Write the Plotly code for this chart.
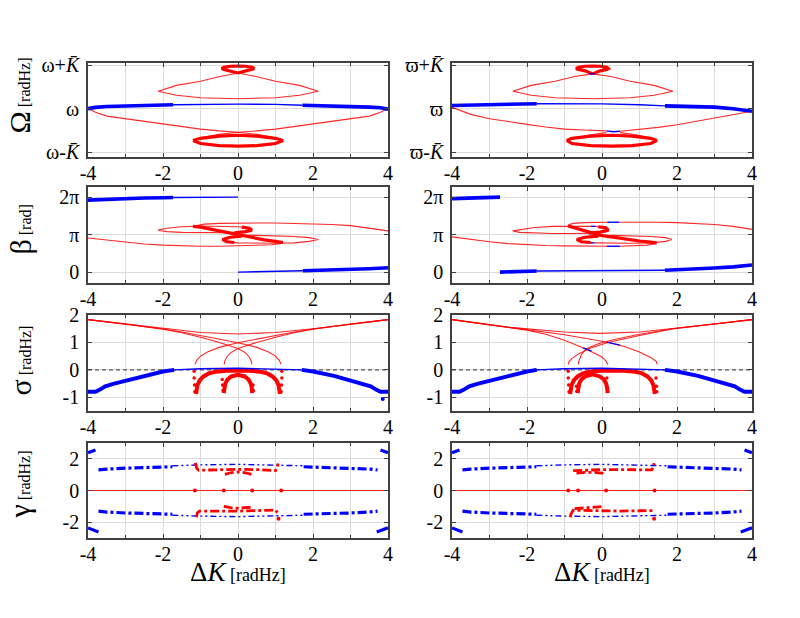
import plotly.graph_objects as go

# ---------------- DATA ----------------
X_TICKS = [-4, -2, 0, 2, 4]
X_TICKTEXT = ["-4", "-2", "0", "2", "4"]
OM_TICKVALS = [-1, 0, 1]
OM_L_TICKTEXT = ["ω-<i>K̄</i>", "ω", "ω+<i>K̄</i>"]
OM_R_TICKTEXT = ["ϖ-<i>K̄</i>", "ϖ", "ϖ+<i>K̄</i>"]
BE_TICKVALS = [0, 1, 2]          # units of pi
BE_TICKTEXT = ["0", "π", "2π"]
SI_TICKVALS = [-1, 0, 1, 2]
SI_TICKTEXT = ["-1", "0", "1", "2"]
GA_TICKVALS = [-2, 0, 2]
GA_TICKTEXT = ["-2", "0", "2"]

# ---- Row 1 left ----
OM_L_BLUE_A_X = [-4.0, -3.8, -3.5, -3.0, -2.5, -2.0, -1.73]
OM_L_BLUE_A_Y = [0.0, 0.03, 0.05, 0.065, 0.075, 0.085, 0.09]
OM_L_BLUE_B_X = [-1.73, -1.0, 0.0, 1.0, 1.72]
OM_L_BLUE_B_Y = [0.09, 0.1, 0.105, 0.1, 0.08]
OM_L_BLUE_C_X = [1.72, 2.0, 2.5, 3.0, 3.5, 3.8, 4.0]
OM_L_BLUE_C_Y = [0.08, 0.075, 0.065, 0.05, 0.035, 0.02, -0.01]
OM_L_ARM1_X = [-4.0, -3.8, -3.5, -3.0, -2.5, -2.0, -1.5, -1.0, -0.5, 0.0, 0.5, 0.9, 1.15]
OM_L_ARM1_Y = [0.0, -0.08, -0.17, -0.23, -0.30, -0.36, -0.42, -0.47, -0.51, -0.54, -0.59, -0.65, -0.71]
OM_L_ARM2_X = [4.0, 3.8, 3.5, 3.0, 2.5, 2.0, 1.5, 1.0, 0.5, 0.0, -0.5, -0.9, -1.15]
OM_L_ARM2_Y = [0.0, -0.08, -0.17, -0.23, -0.30, -0.36, -0.42, -0.47, -0.51, -0.54, -0.59, -0.65, -0.71]
OM_L_LOOP_X = [-1.2, -1.0, -0.5, 0.0, 0.5, 1.0, 1.2, 1.0, 0.5, 0.0, -0.5, -1.0, -1.2]
OM_L_LOOP_Y = [-0.73, -0.68, -0.63, -0.61, -0.63, -0.68, -0.73, -0.80, -0.85, -0.86, -0.85, -0.80, -0.73]
OM_L_BIG_X = [0.0, -0.48, -1.0, -1.64, -2.13, -1.64, -1.0, 0.0, 1.0, 1.64, 2.14, 1.64, 1.0, 0.48, 0.0]
OM_L_BIG_Y = [0.82, 0.74, 0.63, 0.535, 0.40, 0.31, 0.25, 0.23, 0.25, 0.31, 0.40, 0.535, 0.63, 0.74, 0.82]
OM_L_SMALL_X = [0.0, 0.2, 0.38, 0.43, 0.38, 0.2, 0.0, -0.2, -0.38, -0.43, -0.38, -0.2, 0.0]
OM_L_SMALL_Y = [0.82, 0.87, 0.90, 0.92, 0.95, 0.975, 0.98, 0.975, 0.95, 0.92, 0.90, 0.87, 0.82]

# ---- Row 1 right ----
OM_R_BLUE_A_X = [-4.0, -3.5, -3.0, -2.5, -2.0, -1.74]
OM_R_BLUE_A_Y = [0.075, 0.085, 0.095, 0.105, 0.11, 0.115]
OM_R_BLUE_B_X = [-1.74, -1.0, 0.0, 1.0, 1.68]
OM_R_BLUE_B_Y = [0.115, 0.115, 0.11, 0.09, 0.065]
OM_R_BLUE_C_X = [1.68, 2.0, 2.5, 3.0, 3.5, 3.8, 4.0]
OM_R_BLUE_C_Y = [0.065, 0.06, 0.05, 0.035, 0.0, -0.03, -0.06]
OM_R_ARM1_X = [-4.0, -3.8, -3.5, -3.0, -2.5, -2.0, -1.5, -1.0, -0.5, 0.0, 0.12]
OM_R_ARM1_Y = [0.03, -0.04, -0.13, -0.23, -0.30, -0.36, -0.42, -0.47, -0.49, -0.50, -0.51]
OM_R_ARM1B_X = [0.48, 0.9, 1.3, 1.46]
OM_R_ARM1B_Y = [-0.55, -0.60, -0.67, -0.73]
OM_R_ARM2_X = [4.0, 3.5, 3.0, 2.5, 2.0, 1.5, 1.0, 0.48]
OM_R_ARM2_Y = [-0.06, -0.14, -0.22, -0.30, -0.37, -0.43, -0.48, -0.52]
OM_R_ARM2B_X = [0.12, -0.3, -0.7, -0.94]
OM_R_ARM2B_Y = [-0.55, -0.60, -0.67, -0.73]
OM_R_BLUEX_X = [0.12, 0.3, 0.48]
OM_R_BLUEX_Y = [-0.51, -0.53, -0.52]
OM_R_LOOP_X = [-0.94, -0.8, -0.3, 0.26, 0.8, 1.3, 1.46, 1.3, 0.8, 0.26, -0.3, -0.8, -0.94]
OM_R_LOOP_Y = [-0.73, -0.68, -0.63, -0.61, -0.63, -0.68, -0.73, -0.80, -0.85, -0.86, -0.85, -0.80, -0.73]
OM_R_BIG_X = [-0.25, -0.73, -1.25, -1.89, -2.38, -1.89, -1.25, -0.25, 0.75, 1.39, 1.89, 1.39, 0.75, 0.23, -0.25]
OM_R_BIG_Y = [0.80, 0.74, 0.63, 0.535, 0.40, 0.31, 0.25, 0.23, 0.25, 0.31, 0.40, 0.535, 0.63, 0.74, 0.80]
OM_R_SMALL_X = [-0.25, -0.05, 0.13, 0.17, 0.13, -0.05, -0.26, -0.45, -0.63, -0.69, -0.63, -0.45, -0.25]
OM_R_SMALL_Y = [0.80, 0.87, 0.90, 0.92, 0.95, 0.975, 0.98, 0.975, 0.95, 0.92, 0.90, 0.87, 0.80]
OM_R_BLUEY_X = [-0.33, -0.2]
OM_R_BLUEY_Y = [0.80, 0.80]

# ---- Row 2 left (beta, units of pi) ----
BE_L_BLUE_A_X = [-4.0, -3.5, -3.0, -2.5, -2.0, -1.73]
BE_L_BLUE_A_PI = [1.92, 1.945, 1.96, 1.975, 1.985, 1.99]
BE_L_BLUE_B_X = [-1.73, -1.0, 0.0]
BE_L_BLUE_B_PI = [1.99, 1.995, 2.0]
BE_L_BLUE_C_X = [0.0, 1.0, 1.73]
BE_L_BLUE_C_PI = [0.0, 0.015, 0.035]
BE_L_BLUE_D_X = [1.73, 2.0, 2.5, 3.0, 3.5, 4.0]
BE_L_BLUE_D_PI = [0.035, 0.04, 0.055, 0.07, 0.09, 0.115]
BE_L_UP_X = [4.0, 3.5, 3.0, 2.5, 2.0, 1.5, 1.0, 0.5, 0.0, -0.5, -0.9, -1.1, -1.2]
BE_L_UP_PI = [1.10, 1.18, 1.24, 1.27, 1.29, 1.30, 1.31, 1.31, 1.31, 1.30, 1.28, 1.25, 1.22]
BE_L_LO_X = [-4.0, -3.5, -3.0, -2.5, -2.0, -1.5, -1.0, -0.5, 0.0, 0.5, 0.9, 1.1, 1.2]
BE_L_LO_PI = [0.91, 0.85, 0.79, 0.75, 0.72, 0.70, 0.69, 0.69, 0.70, 0.71, 0.73, 0.76, 0.79]
BE_L_S_X = [-1.2, -1.0, -0.7, -0.4, -0.2, 0.0, 0.2, 0.4, 0.7, 1.0, 1.2]
BE_L_S_PI = [1.22, 1.2, 1.14, 1.08, 1.03, 1.0, 0.97, 0.92, 0.86, 0.82, 0.79]
BE_L_ULOOP_X = [0.37, 0.3, 0.0, -0.5, -1.0, -1.5, -1.9, -2.13, -1.9, -1.5, -1.0, -0.5, -0.1, 0.2, 0.37]
BE_L_ULOOP_PI = [1.12, 1.18, 1.21, 1.23, 1.23, 1.21, 1.17, 1.12, 1.08, 1.06, 1.05, 1.045, 1.05, 1.08, 1.12]
BE_L_UEND_X = [-0.1, 0.2, 0.37, 0.3, 0.1]
BE_L_UEND_PI = [1.05, 1.08, 1.12, 1.17, 1.2]
BE_L_LLOOP_X = [-0.41, -0.3, 0.0, 0.5, 1.0, 1.5, 1.9, 2.14, 1.9, 1.5, 1.0, 0.5, 0.0, -0.3, -0.41]
BE_L_LLOOP_PI = [0.87, 0.80, 0.78, 0.77, 0.77, 0.78, 0.82, 0.87, 0.92, 0.95, 0.97, 0.98, 0.98, 0.93, 0.87]
BE_L_LEND_X = [0.1, -0.2, -0.41, -0.3, -0.1]
BE_L_LEND_PI = [0.96, 0.93, 0.87, 0.81, 0.79]

# ---- Row 2 right ----
BE_R_BLUE_A_X = [-4.0, -3.5, -3.0, -2.72]
BE_R_BLUE_A_PI = [1.96, 1.975, 1.99, 2.0]
BE_R_BLUE_B_X = [-2.72, -2.5, -2.0, -1.74]
BE_R_BLUE_B_PI = [0.0, 0.005, 0.02, 0.03]
BE_R_BLUE_C_X = [-1.74, -1.0, 0.0, 1.0, 1.68]
BE_R_BLUE_C_PI = [0.03, 0.035, 0.04, 0.045, 0.05]
BE_R_BLUE_D_X = [1.68, 2.0, 2.5, 3.0, 3.5, 4.0]
BE_R_BLUE_D_PI = [0.05, 0.06, 0.08, 0.11, 0.14, 0.19]
BE_R_UP1_X = [4.0, 3.5, 3.0, 2.5, 2.0, 1.5, 1.0, 0.46]
BE_R_UP1_PI = [1.14, 1.22, 1.27, 1.30, 1.32, 1.33, 1.33, 1.33]
BE_R_UPB_X = [0.46, 0.3, 0.14]
BE_R_UPB_PI = [1.33, 1.33, 1.33]
BE_R_UP2_X = [0.14, -0.2, -0.5, -0.75, -0.88, -0.9]
BE_R_UP2_PI = [1.33, 1.33, 1.32, 1.30, 1.27, 1.23]
BE_R_LO1_X = [-4.0, -3.5, -3.0, -2.5, -2.0, -1.5, -1.0, -0.5, 0.0, 0.13]
BE_R_LO1_PI = [0.94, 0.87, 0.81, 0.76, 0.73, 0.71, 0.70, 0.69, 0.69, 0.69]
BE_R_LOB_X = [0.13, 0.3, 0.48]
BE_R_LOB_PI = [0.69, 0.69, 0.69]
BE_R_LO2_X = [0.48, 0.9, 1.2, 1.4, 1.46]
BE_R_LO2_PI = [0.69, 0.70, 0.72, 0.75, 0.78]
BE_R_S_X = [-0.9, -0.7, -0.45, -0.25, -0.15, 0.1, 0.4, 0.7, 1.0, 1.3, 1.46]
BE_R_S_PI = [1.23, 1.18, 1.10, 1.04, 1.0, 0.96, 0.91, 0.87, 0.83, 0.80, 0.78]
BE_R_ULOOP1_X = [0.17, 0.1, -0.17]
BE_R_ULOOP1_PI = [1.12, 1.19, 1.22]
BE_R_ULOOPB_X = [-0.17, -0.3]
BE_R_ULOOPB_PI = [1.22, 1.22]
BE_R_ULOOP2_X = [-0.3, -0.8, -1.3, -1.8, -2.2, -2.38, -2.2, -1.8, -1.3, -0.8, -0.4, -0.1, 0.1, 0.17]
BE_R_ULOOP2_PI = [1.22, 1.23, 1.22, 1.19, 1.14, 1.10, 1.06, 1.04, 1.03, 1.03, 1.03, 1.04, 1.07, 1.12]
BE_R_UEND_X = [-0.35, -0.05, 0.17, 0.1, -0.1]
BE_R_UEND_PI = [1.04, 1.07, 1.12, 1.18, 1.21]
BE_R_LLOOP_X = [-0.2, 0.3, 0.8, 1.3, 1.7, 1.86, 1.7, 1.3, 0.8, 0.3, -0.2, -0.5, -0.67, -0.55, -0.3]
BE_R_LLOOP_PI = [0.78, 0.77, 0.77, 0.78, 0.82, 0.87, 0.92, 0.95, 0.97, 0.98, 0.97, 0.94, 0.87, 0.80, 0.78]
BE_R_LLOOPB_X = [-0.3, -0.2]
BE_R_LLOOPB_PI = [0.78, 0.78]
BE_R_LEND_X = [-0.1, -0.45, -0.67, -0.55, -0.3]
BE_R_LEND_PI = [0.96, 0.93, 0.87, 0.81, 0.79]

# ---- Row 3 left (sigma) ----
ZERO_X = [-4.0, 4.0]
ZERO_Y = [0.0, 0.0]
SI_L_BLUE_A_X = [-4.0, -3.8, -3.68, -3.54, -3.3, -3.0, -2.56, -2.0, -1.7]
SI_L_BLUE_A_Y = [-0.80, -0.80, -0.72, -0.60, -0.50, -0.40, -0.22, -0.06, 0.0]
SI_L_BLUE_B_X = [-1.7, -1.0, 0.0, 1.0, 1.7]
SI_L_BLUE_B_Y = [0.0, 0.04, 0.06, 0.04, 0.0]
SI_L_BLUE_C_X = [1.7, 2.0, 2.56, 3.0, 3.3, 3.54, 3.68, 3.8, 4.0]
SI_L_BLUE_C_Y = [0.0, -0.06, -0.22, -0.40, -0.50, -0.60, -0.72, -0.80, -0.80]
SI_L_BLUE_DOT_X = [3.86]
SI_L_BLUE_DOT_Y = [-1.06]
SI_L_ENV_X = [-4.0, -3.0, -2.0, -1.0, 0.0, 1.0, 2.0, 3.0, 4.0]
SI_L_ENV_Y = [1.83, 1.67, 1.50, 1.36, 1.31, 1.36, 1.50, 1.67, 1.83]
SI_L_A1_X = [-4.0, -3.0, -2.0, -1.5, -1.0, -0.5, 0.0, 0.5, 0.8, 1.0, 1.1, 1.15]
SI_L_A1_Y = [1.83, 1.67, 1.49, 1.38, 1.25, 1.12, 0.99, 0.82, 0.66, 0.50, 0.35, 0.2]
SI_L_A2_X = [-4.0, -3.0, -2.0, -1.5, -1.0, -0.5, 0.0, 0.2, 0.3, 0.35, 0.37]
SI_L_A2_Y = [1.83, 1.67, 1.48, 1.35, 1.19, 1.00, 0.78, 0.62, 0.47, 0.33, 0.2]
SI_L_B1_X = [4.0, 3.0, 2.0, 1.5, 1.0, 0.5, 0.0, -0.5, -0.8, -1.0, -1.1, -1.15]
SI_L_B1_Y = [1.83, 1.67, 1.49, 1.38, 1.25, 1.12, 0.99, 0.82, 0.66, 0.50, 0.35, 0.2]
SI_L_B2_X = [4.0, 3.0, 2.0, 1.5, 1.0, 0.5, 0.0, -0.2, -0.3, -0.35, -0.37]
SI_L_B2_Y = [1.83, 1.67, 1.48, 1.35, 1.19, 1.00, 0.78, 0.62, 0.47, 0.33, 0.2]
SI_L_OUT_X = [-1.12, -1.11, -1.08, -1.02, -0.92, -0.78, -0.6, -0.3, 0.0, 0.3, 0.6, 0.78, 0.92, 1.02, 1.08, 1.11, 1.12]
SI_L_OUT_Y = [-0.88, -0.72, -0.55, -0.38, -0.24, -0.13, -0.07, -0.03, -0.02, -0.03, -0.07, -0.13, -0.24, -0.38, -0.55, -0.72, -0.88]
SI_L_IN_X = [-0.38, -0.37, -0.34, -0.28, -0.18, 0.0, 0.18, 0.28, 0.34, 0.37, 0.38]
SI_L_IN_Y = [-0.85, -0.68, -0.50, -0.35, -0.24, -0.18, -0.24, -0.35, -0.50, -0.68, -0.85]
SI_L_DOTS_X = [-1.17, -1.17, -1.16, -1.15, -0.42, -0.41, -0.40, 0.40, 0.41, 1.15, 1.16, 1.17, 1.17]
SI_L_DOTS_Y = [-0.05, -0.3, -0.55, -0.8, -0.35, -0.55, -0.75, -0.55, -0.75, -0.8, -0.55, -0.3, -0.05]

# ---- Row 3 right ----
SI_R_BLUE_A_X = [-4.0, -3.8, -3.68, -3.54, -3.3, -3.0, -2.56, -2.0, -1.74]
SI_R_BLUE_A_Y = [-0.80, -0.80, -0.72, -0.60, -0.50, -0.40, -0.22, -0.06, 0.0]
SI_R_BLUE_B_X = [-1.74, -1.0, 0.0, 1.0, 1.68]
SI_R_BLUE_B_Y = [0.0, 0.04, 0.06, 0.04, 0.0]
SI_R_BLUE_C_X = [1.68, 2.0, 2.56, 3.0, 3.3, 3.54, 3.68, 3.8, 4.0]
SI_R_BLUE_C_Y = [0.0, -0.06, -0.22, -0.40, -0.50, -0.60, -0.72, -0.80, -0.80]
SI_R_ENV_X = [-4.0, -3.0, -2.45, -1.0, -0.05, 1.0, 1.9, 3.0, 4.0]
SI_R_ENV_Y = [1.83, 1.64, 1.55, 1.38, 1.33, 1.38, 1.50, 1.67, 1.83]
SI_R_L1_X = [-4.0, -3.0, -2.45, -2.0, -1.0, 0.0, 0.16, 0.6, 1.0, 1.3, 1.45, 1.47]
SI_R_L1_Y = [1.83, 1.64, 1.55, 1.47, 1.28, 1.04, 1.0, 0.85, 0.65, 0.45, 0.3, 0.2]
SI_R_L2_X = [-4.0, -3.0, -2.45, -2.0, -1.5, -1.0, -0.43, -0.2, 0.0, 0.1, 0.16]
SI_R_L2_Y = [1.83, 1.64, 1.55, 1.45, 1.3, 1.08, 0.76, 0.62, 0.47, 0.33, 0.2]
SI_R_R1_X = [4.0, 3.0, 1.9, 1.0, 0.16, -0.3, -0.6, -0.8, -0.88, -0.9]
SI_R_R1_Y = [1.83, 1.67, 1.5, 1.25, 1.0, 0.8, 0.6, 0.42, 0.3, 0.2]
SI_R_R2_X = [4.0, 3.0, 1.9, 1.0, 0.3, -0.1, -0.43, -0.55, -0.61, -0.63]
SI_R_R2_Y = [1.83, 1.67, 1.5, 1.3, 1.1, 0.95, 0.76, 0.55, 0.35, 0.2]
SI_R_BLUE1_X = [-0.5, -0.43, -0.28]
SI_R_BLUE1_Y = [0.80, 0.76, 0.68]
SI_R_BLUE2_X = [0.13, 0.3, 0.48]
SI_R_BLUE2_Y = [1.01, 0.96, 0.90]
SI_R_OUT_X = [-0.85, -0.84, -0.81, -0.75, -0.65, -0.51, -0.33, -0.03, 0.28, 0.59, 0.89, 1.07, 1.21, 1.31, 1.37, 1.40, 1.41]
SI_R_OUT_Y = [-0.88, -0.72, -0.55, -0.38, -0.24, -0.13, -0.07, -0.03, -0.02, -0.03, -0.07, -0.13, -0.24, -0.38, -0.55, -0.72, -0.88]
SI_R_IN_X = [-0.65, -0.64, -0.61, -0.55, -0.44, -0.25, -0.06, 0.05, 0.11, 0.14, 0.15]
SI_R_IN_Y = [-0.85, -0.68, -0.50, -0.35, -0.24, -0.16, -0.24, -0.35, -0.50, -0.68, -0.85]
SI_R_DOTS_X = [-0.9, -0.9, -0.89, -0.88, -0.68, -0.67, 0.13, 0.13, 1.44, 1.45, 1.46]
SI_R_DOTS_Y = [-0.05, -0.3, -0.55, -0.8, -0.6, -0.78, -0.3, -0.65, -0.3, -0.6, -0.8]

# ---- Row 4 (gamma) ----
GA_BLUE_UA_X = [-3.72, -3.5, -3.0, -2.5, -2.0, -1.75]
GA_BLUE_UA_Y = [1.30, 1.35, 1.41, 1.45, 1.48, 1.50]
GA_BLUE_UB_X = [-1.75, -1.0, 0.0, 1.0, 1.75]
GA_BLUE_UB_Y = [1.56, 1.62, 1.65, 1.62, 1.56]
GA_BLUE_UC_X = [1.75, 2.0, 2.5, 3.0, 3.5, 3.72]
GA_BLUE_UC_Y = [1.50, 1.48, 1.45, 1.41, 1.35, 1.30]
GA_BLUE_LA_X = [-3.72, -3.5, -3.0, -2.5, -2.0, -1.75]
GA_BLUE_LA_Y = [-1.30, -1.36, -1.42, -1.46, -1.49, -1.50]
GA_BLUE_LB_X = [-1.75, -1.0, 0.0, 1.0, 1.75]
GA_BLUE_LB_Y = [-1.56, -1.62, -1.65, -1.62, -1.56]
GA_BLUE_LC_X = [1.75, 2.0, 2.5, 3.0, 3.5, 3.72]
GA_BLUE_LC_Y = [-1.50, -1.49, -1.46, -1.42, -1.36, -1.30]
GA_BLUE_TL_X = [-4.0, -3.8]
GA_BLUE_TL_Y = [2.38, 2.56]
GA_BLUE_TR_X = [3.8, 4.0]
GA_BLUE_TR_Y = [2.56, 2.38]
GA_BLUE_BL_X = [-4.0, -3.72]
GA_BLUE_BL_Y = [-2.36, -2.62]
GA_BLUE_BR_X = [3.7, 4.0]
GA_BLUE_BR_Y = [-2.62, -2.36]
GA_L_ZDOT_X = [-1.15, -0.38, 0.38, 1.15]
GA_R_ZDOT_X = [-0.9, -0.64, 0.11, 1.4]
GA_ZDOT_Y = [0.0, 0.0, 0.0, 0.0]
GA_L_RU_X = [-1.14, -1.1, -1.05, -0.5, 0.0, 0.5, 1.0, 1.05, 1.07]
GA_L_RU_Y = [1.75, 1.40, 1.28, 1.32, 1.34, 1.32, 1.26, 1.45, 1.70]
GA_L_RUI_X = [-0.35, -0.2, 0.0, 0.2, 0.38]
GA_L_RUI_Y = [1.02, 1.12, 1.17, 1.12, 1.0]
GA_L_RL_X = [-1.11, -1.08, -1.03, -0.5, 0.0, 0.5, 1.0, 1.05]
GA_L_RL_Y = [-1.69, -1.40, -1.30, -1.31, -1.30, -1.27, -1.23, -1.4]
GA_L_RLI_X = [-0.38, -0.2, 0.0, 0.2, 0.38]
GA_L_RLI_Y = [-1.0, -1.08, -1.12, -1.1, -1.05]
GA_L_RDOT_X = [1.08]
GA_L_RDOT_Y = [-1.79]
GA_R_RU_X = [-0.77, -0.5, 0.0, 0.5, 1.0, 1.33, 1.37, 1.39]
GA_R_RU_Y = [1.25, 1.28, 1.32, 1.32, 1.30, 1.30, 1.5, 1.73]
GA_R_RUI_X = [-0.68, -0.45, -0.2, 0.0, 0.11]
GA_R_RUI_Y = [1.10, 1.15, 1.15, 1.1, 1.02]
GA_R_RL_X = [-0.85, -0.82, -0.77, -0.5, 0.0, 0.5, 1.0, 1.4]
GA_R_RL_Y = [-1.69, -1.45, -1.25, -1.27, -1.30, -1.30, -1.28, -1.27]
GA_R_RLI_X = [-0.73, -0.5, -0.3, -0.1, 0.07]
GA_R_RLI_Y = [-1.15, -1.1, -1.05, -1.02, -1.0]
GA_R_RDOT_X = [1.39]
GA_R_RDOT_Y = [-1.79]

# ---------------- FIGURE ----------------
RED = "rgba(255,0,0,1)"
RED_THIN = "rgba(255,0,0,0.85)"
BLUE = "rgb(0,0,255)"
FONT = "Liberation Serif, Times New Roman, serif"

fig = go.Figure()


def add(panel, xs, ys, color, width, dash=None, mode="lines", msize=4):
    suffix = "" if panel == 1 else str(panel)
    line = dict(color=color, width=width)
    if dash:
        line["dash"] = dash
    fig.add_trace(go.Scatter(x=xs, y=ys, mode=mode, line=line,
                             marker=dict(color=color, size=msize),
                             xaxis="x" + suffix, yaxis="y" + suffix,
                             hoverinfo="skip", showlegend=False))

TH, TN, BT, BN = 3.2, 1.1, 3.6, 1.4

# Row 1
add(1, OM_L_ARM1_X, OM_L_ARM1_Y, RED_THIN, TN)
add(1, OM_L_ARM2_X, OM_L_ARM2_Y, RED_THIN, TN)
add(1, OM_L_BIG_X, OM_L_BIG_Y, RED_THIN, TN)
add(1, OM_L_LOOP_X, OM_L_LOOP_Y, RED, TH)
add(1, OM_L_SMALL_X, OM_L_SMALL_Y, RED, TH)
add(1, OM_L_BLUE_A_X, OM_L_BLUE_A_Y, BLUE, BT)
add(1, OM_L_BLUE_B_X, OM_L_BLUE_B_Y, BLUE, BN)
add(1, OM_L_BLUE_C_X, OM_L_BLUE_C_Y, BLUE, BT)

add(2, OM_R_ARM1_X, OM_R_ARM1_Y, RED_THIN, TN)
add(2, OM_R_ARM1B_X, OM_R_ARM1B_Y, RED_THIN, TN)
add(2, OM_R_ARM2_X, OM_R_ARM2_Y, RED_THIN, TN)
add(2, OM_R_ARM2B_X, OM_R_ARM2B_Y, RED_THIN, TN)
add(2, OM_R_BIG_X, OM_R_BIG_Y, RED_THIN, TN)
add(2, OM_R_LOOP_X, OM_R_LOOP_Y, RED, TH)
add(2, OM_R_SMALL_X, OM_R_SMALL_Y, RED, TH)
add(2, OM_R_BLUEX_X, OM_R_BLUEX_Y, BLUE, BN)
add(2, OM_R_BLUEY_X, OM_R_BLUEY_Y, BLUE, BN)
add(2, OM_R_BLUE_A_X, OM_R_BLUE_A_Y, BLUE, BT)
add(2, OM_R_BLUE_B_X, OM_R_BLUE_B_Y, BLUE, BN)
add(2, OM_R_BLUE_C_X, OM_R_BLUE_C_Y, BLUE, BT)

# Row 2
add(3, BE_L_UP_X, BE_L_UP_PI, RED_THIN, TN)
add(3, BE_L_LO_X, BE_L_LO_PI, RED_THIN, TN)
add(3, BE_L_ULOOP_X, BE_L_ULOOP_PI, RED_THIN, TN)
add(3, BE_L_LLOOP_X, BE_L_LLOOP_PI, RED_THIN, TN)
add(3, BE_L_S_X, BE_L_S_PI, RED, TH)
add(3, BE_L_UEND_X, BE_L_UEND_PI, RED, TH)
add(3, BE_L_LEND_X, BE_L_LEND_PI, RED, TH)
add(3, BE_L_BLUE_A_X, BE_L_BLUE_A_PI, BLUE, BT)
add(3, BE_L_BLUE_B_X, BE_L_BLUE_B_PI, BLUE, BN)
add(3, BE_L_BLUE_C_X, BE_L_BLUE_C_PI, BLUE, BN)
add(3, BE_L_BLUE_D_X, BE_L_BLUE_D_PI, BLUE, BT)

add(4, BE_R_UP1_X, BE_R_UP1_PI, RED_THIN, TN)
add(4, BE_R_UP2_X, BE_R_UP2_PI, RED_THIN, TN)
add(4, BE_R_LO1_X, BE_R_LO1_PI, RED_THIN, TN)
add(4, BE_R_LO2_X, BE_R_LO2_PI, RED_THIN, TN)
add(4, BE_R_ULOOP1_X, BE_R_ULOOP1_PI, RED_THIN, TN)
add(4, BE_R_ULOOP2_X, BE_R_ULOOP2_PI, RED_THIN, TN)
add(4, BE_R_LLOOP_X, BE_R_LLOOP_PI, RED_THIN, TN)
add(4, BE_R_S_X, BE_R_S_PI, RED, TH)
add(4, BE_R_UEND_X, BE_R_UEND_PI, RED, TH)
add(4, BE_R_LEND_X, BE_R_LEND_PI, RED, TH)
add(4, BE_R_UPB_X, BE_R_UPB_PI, BLUE, BN)
add(4, BE_R_LOB_X, BE_R_LOB_PI, BLUE, BN)
add(4, BE_R_ULOOPB_X, BE_R_ULOOPB_PI, BLUE, BN)
add(4, BE_R_LLOOPB_X, BE_R_LLOOPB_PI, BLUE, BN)
add(4, BE_R_BLUE_A_X, BE_R_BLUE_A_PI, BLUE, BT)
add(4, BE_R_BLUE_B_X, BE_R_BLUE_B_PI, BLUE, BT)
add(4, BE_R_BLUE_C_X, BE_R_BLUE_C_PI, BLUE, BN)
add(4, BE_R_BLUE_D_X, BE_R_BLUE_D_PI, BLUE, BT)

# Row 3
for p in (5, 6):
    add(p, ZERO_X, ZERO_Y, "#555555", 1.2, dash="4px,3px")
for xs, ys in ((SI_L_ENV_X, SI_L_ENV_Y), (SI_L_A1_X, SI_L_A1_Y), (SI_L_A2_X, SI_L_A2_Y),
               (SI_L_B1_X, SI_L_B1_Y), (SI_L_B2_X, SI_L_B2_Y)):
    add(5, xs, ys, RED_THIN, TN)
add(5, SI_L_OUT_X, SI_L_OUT_Y, RED, 4)
add(5, SI_L_IN_X, SI_L_IN_Y, RED, 4)
add(5, SI_L_DOTS_X, SI_L_DOTS_Y, RED, 0, mode="markers", msize=3.5)
add(5, SI_L_BLUE_A_X, SI_L_BLUE_A_Y, BLUE, 4)
add(5, SI_L_BLUE_B_X, SI_L_BLUE_B_Y, BLUE, BN)
add(5, SI_L_BLUE_C_X, SI_L_BLUE_C_Y, BLUE, 4)
add(5, SI_L_BLUE_DOT_X, SI_L_BLUE_DOT_Y, BLUE, 0, mode="markers", msize=4)

for xs, ys in ((SI_R_ENV_X, SI_R_ENV_Y), (SI_R_L1_X, SI_R_L1_Y), (SI_R_L2_X, SI_R_L2_Y),
               (SI_R_R1_X, SI_R_R1_Y), (SI_R_R2_X, SI_R_R2_Y)):
    add(6, xs, ys, RED_THIN, TN)
add(6, SI_R_BLUE1_X, SI_R_BLUE1_Y, BLUE, BN)
add(6, SI_R_BLUE2_X, SI_R_BLUE2_Y, BLUE, BN)
add(6, SI_R_OUT_X, SI_R_OUT_Y, RED, 4)
add(6, SI_R_IN_X, SI_R_IN_Y, RED, 4)
add(6, SI_R_DOTS_X, SI_R_DOTS_Y, RED, 0, mode="markers", msize=3.5)
add(6, SI_R_BLUE_A_X, SI_R_BLUE_A_Y, BLUE, 4)
add(6, SI_R_BLUE_B_X, SI_R_BLUE_B_Y, BLUE, BN)
add(6, SI_R_BLUE_C_X, SI_R_BLUE_C_Y, BLUE, 4)

# Row 4
DASH_THICK = "9px,3px,3px,3px"
DASH_THIN = "6px,3px,2px,3px,2px,3px"
for p in (7, 8):
    add(p, ZERO_X, ZERO_Y, RED_THIN, TN)
    add(p, GA_BLUE_UA_X, GA_BLUE_UA_Y, BLUE, 3.2, dash=DASH_THICK)
    add(p, GA_BLUE_UB_X, GA_BLUE_UB_Y, BLUE, 1.4, dash=DASH_THIN)
    add(p, GA_BLUE_UC_X, GA_BLUE_UC_Y, BLUE, 3.2, dash=DASH_THICK)
    add(p, GA_BLUE_LA_X, GA_BLUE_LA_Y, BLUE, 3.2, dash=DASH_THICK)
    add(p, GA_BLUE_LB_X, GA_BLUE_LB_Y, BLUE, 1.4, dash=DASH_THIN)
    add(p, GA_BLUE_LC_X, GA_BLUE_LC_Y, BLUE, 3.2, dash=DASH_THICK)
    add(p, GA_BLUE_TL_X, GA_BLUE_TL_Y, BLUE, 3.2)
    add(p, GA_BLUE_TR_X, GA_BLUE_TR_Y, BLUE, 3.2)
    add(p, GA_BLUE_BL_X, GA_BLUE_BL_Y, BLUE, 3.2)
    add(p, GA_BLUE_BR_X, GA_BLUE_BR_Y, BLUE, 3.2)
add(7, GA_L_ZDOT_X, GA_ZDOT_Y, RED, 0, mode="markers", msize=4)
add(7, GA_L_RU_X, GA_L_RU_Y, RED, 2.8, dash=DASH_THICK)
add(7, GA_L_RUI_X, GA_L_RUI_Y, RED, 2.8, dash=DASH_THICK)
add(7, GA_L_RL_X, GA_L_RL_Y, RED, 2.8, dash=DASH_THICK)
add(7, GA_L_RLI_X, GA_L_RLI_Y, RED, 2.8, dash=DASH_THICK)
add(7, GA_L_RDOT_X, GA_L_RDOT_Y, RED, 0, mode="markers", msize=4)
add(8, GA_R_ZDOT_X, GA_ZDOT_Y, RED, 0, mode="markers", msize=4)
add(8, GA_R_RU_X, GA_R_RU_Y, RED, 2.8, dash=DASH_THICK)
add(8, GA_R_RUI_X, GA_R_RUI_Y, RED, 2.8, dash=DASH_THICK)
add(8, GA_R_RL_X, GA_R_RL_Y, RED, 2.8, dash=DASH_THICK)
add(8, GA_R_RLI_X, GA_R_RLI_Y, RED, 2.8, dash=DASH_THICK)
add(8, GA_R_RDOT_X, GA_R_RDOT_Y, RED, 0, mode="markers", msize=4)

# ---------------- LAYOUT ----------------
W, H = 800, 618
COLS = [(88, 388), (452, 752)]
ROWS = [(63, 157), (187, 283), (315, 411), (443, 538)]
YRANGES = [[-1.11, 1.05], [-0.29, 2.27], [-1.5, 2.0], [-3.0, 3.0]]
YTICKS = [(OM_TICKVALS, OM_L_TICKTEXT, OM_R_TICKTEXT),
          (BE_TICKVALS, BE_TICKTEXT, BE_TICKTEXT),
          (SI_TICKVALS, SI_TICKTEXT, SI_TICKTEXT),
          (GA_TICKVALS, GA_TICKTEXT, GA_TICKTEXT)]

TICKFONT = dict(family=FONT, size=20, color="black")
layout = {}
for r in range(4):
    for c in range(2):
        idx = r * 2 + c + 1
        s = "" if idx == 1 else str(idx)
        x0, x1 = COLS[c]
        y0, y1 = ROWS[r]
        common = dict(showline=True, linecolor="#404040", linewidth=1.5, mirror="ticks",
                      ticks="inside", ticklen=4, tickcolor="#404040", automargin=False,
                      showgrid=True, gridcolor="#dcdcdc", gridwidth=1, zeroline=False,
                      tickfont=TICKFONT)
        xa = dict(common)
        xa.update(domain=[x0 / W, x1 / W], range=[-4, 4], tickvals=X_TICKS,
                  ticktext=X_TICKTEXT, anchor="y" + s, ticklabelstandoff=-3,
                  minor=dict(dtick=1, tick0=0, showgrid=True, gridcolor="#dcdcdc",
                             ticks="inside", ticklen=3, tickcolor="#404040"))
        ya = dict(common)
        tv, tl, tr = YTICKS[r]
        ya.update(domain=[1 - y1 / H, 1 - y0 / H], range=YRANGES[r], tickvals=tv,
                  ticktext=(tl if c == 0 else tr), anchor="x" + s, ticklabelstandoff=3)
        layout["xaxis" + s] = xa
        layout["yaxis" + s] = ya

YTITLES = [("Ω", "[radHz]", 96), ("β", "[rad]", 230), ("σ", "[radHz]", 361), ("γ", "[radHz]", 485)]
annotations = []
for sym, unit, yc in YTITLES:
    annotations.append(dict(
        text=sym + "<span style='font-size:16px'> " + unit + "</span>",
        x=1 / W, y=1 - yc / H, xref="paper", yref="paper", xanchor="left", yanchor="middle",
        textangle=-90, showarrow=False, font=dict(family=FONT, size=30, color="black")))
for c in range(2):
    xc = (COLS[c][0] + COLS[c][1]) / 2
    annotations.append(dict(
        text="Δ<i>K</i><span style='font-size:18px'> [radHz]</span>",
        x=xc / W, y=1 - 572 / H, xref="paper", yref="paper", xanchor="center", yanchor="middle",
        showarrow=False, font=dict(family=FONT, size=27, color="black")))

fig.update_layout(width=W, height=H, margin=dict(l=0, r=0, t=0, b=0),
                  template="none",
                  font=dict(family=FONT, size=20, color="black"),
                  paper_bgcolor="white", plot_bgcolor="white", showlegend=False,
                  annotations=annotations, **layout)
fig.write_html("out.html", config={"displayModeBar": False},
               post_script="document.body.style.margin='0px';document.body.style.overflow='hidden';")
